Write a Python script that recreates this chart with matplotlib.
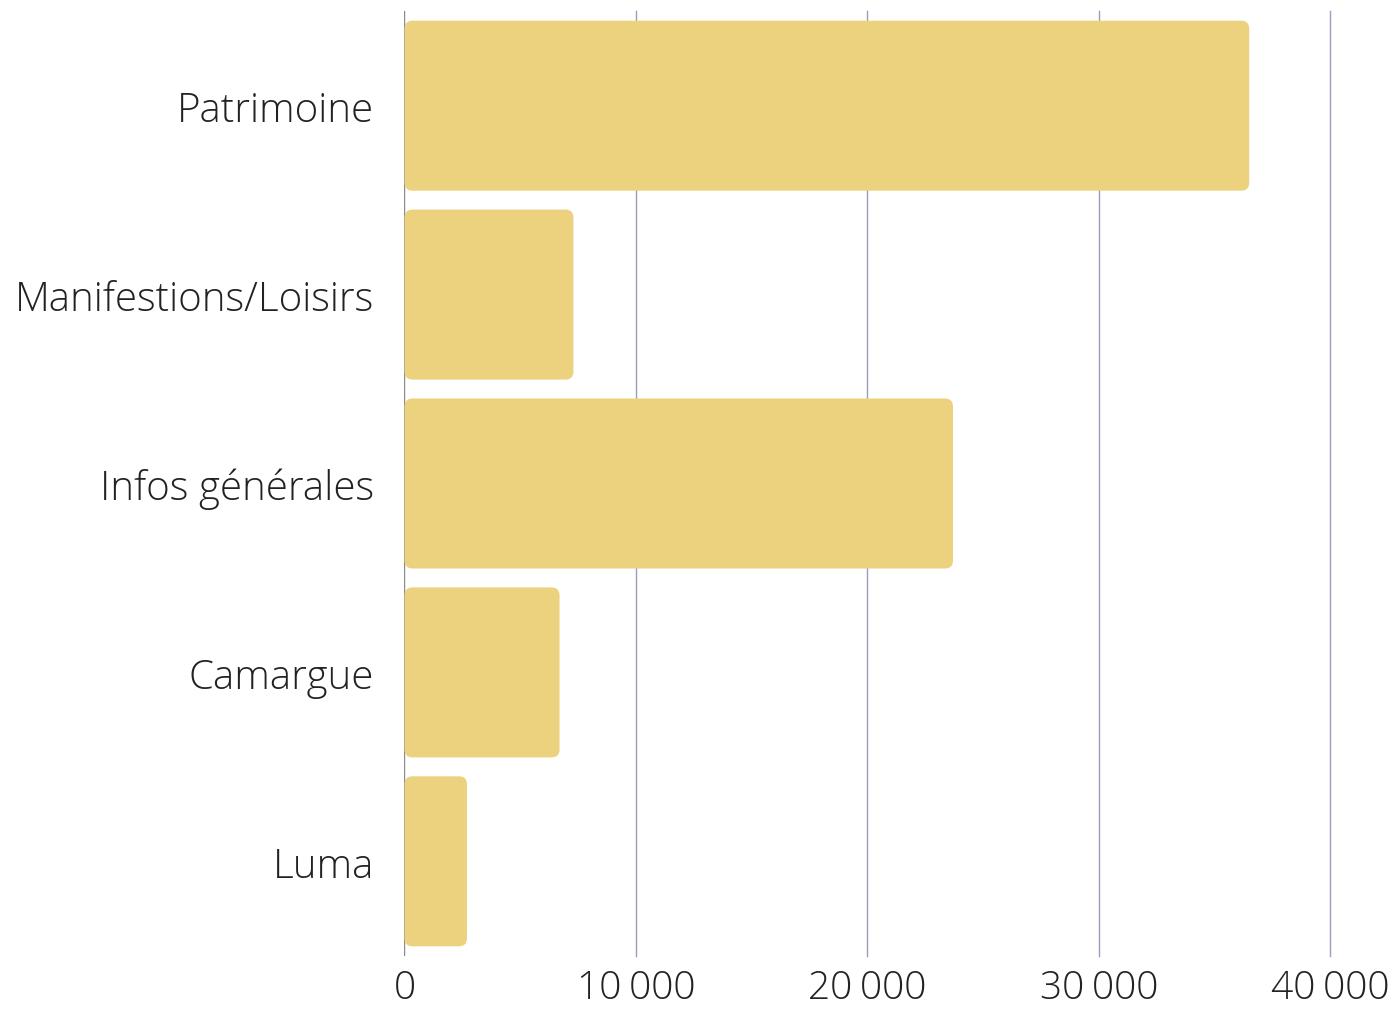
import matplotlib
matplotlib.use('Agg')
import matplotlib.pyplot as plt
from matplotlib.patches import FancyBboxPatch
from matplotlib.ticker import FuncFormatter

plt.rcParams['font.family'] = ['Open Sans', 'DejaVu Sans']

categories = ['Patrimoine', 'Manifestions/Loisirs', 'Infos générales', 'Camargue', 'Luma']
values = [36500, 7300, 23700, 6700, 2700]
xticks = [0, 10000, 20000, 30000, 40000]

bar_color = '#ecd27e'
grid_color = '#9a9dc0'

fig = plt.figure(figsize=(13.9, 10.2), dpi=100)
ax = fig.add_axes([0.291, 0.062, 0.666, 0.926])

ypos = list(range(len(categories)))
bars = ax.barh(ypos, values, height=0.9, color=bar_color, zorder=2)

ax.set_xlim(0, 40000)
ax.set_ylim(len(categories) - 0.5, -0.5)

# swap the plain bars for rounded ones (radius ~8 px)
px_x = 40000 / (0.666 * 1390)
px_y = len(categories) / (0.926 * 1020)
r = 8 * px_x
for b in bars:
    x0, y0 = b.get_x(), b.get_y()
    w, h = b.get_width(), b.get_height()
    b.set_visible(False)
    p = FancyBboxPatch((x0, y0), w, h,
                       boxstyle=f'round,pad=0,rounding_size={r}',
                       mutation_aspect=px_y / px_x,
                       facecolor=bar_color, edgecolor='none', zorder=2)
    ax.add_patch(p)

for t in xticks[1:]:
    ax.axvline(t, color=grid_color, lw=1.0, zorder=1, clip_on=False)
ax.axvline(0, color='#8a8a8a', lw=1.0, zorder=1)

ax.set_xticks(xticks)
ax.xaxis.set_major_formatter(FuncFormatter(
    lambda v, p: f'{int(v):,}'.replace(',', '\u2009')))
ax.set_yticks(ypos)
ax.set_yticklabels(categories)
ax.tick_params(axis='x', length=0, pad=9, labelsize=28, labelcolor='#222222')
ax.tick_params(axis='y', length=0, pad=22, labelsize=29, labelcolor='#222222')
for lbl in ax.get_xticklabels() + ax.get_yticklabels():
    lbl.set_fontweight('light')

for s in ax.spines.values():
    s.set_visible(False)

plt.savefig('out.png', dpi=100)
print('saved')
